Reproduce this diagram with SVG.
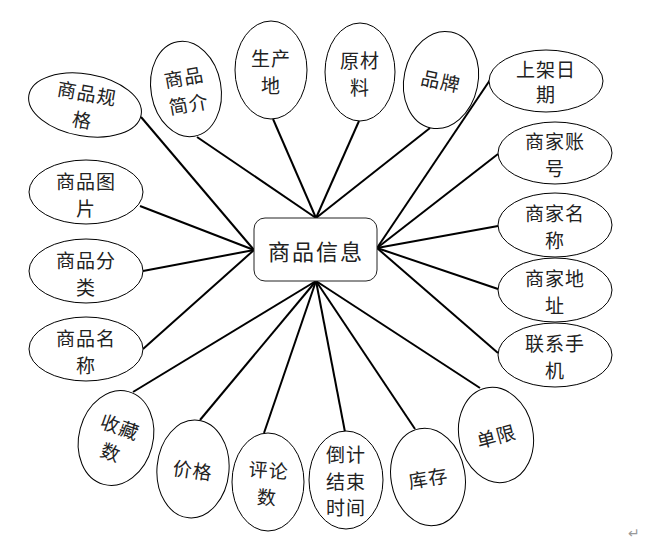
<svg xmlns="http://www.w3.org/2000/svg" width="663" height="540" viewBox="0 0 663 540">
<style>
.e{fill:#fff;stroke:#000;stroke-width:1}
.t{font-family:"Noto Sans CJK SC","Noto Sans",sans-serif;font-size:19px;fill:#222;text-anchor:middle;dominant-baseline:central;letter-spacing:1px}
.c{stroke:#000;stroke-width:2;fill:none}
</style>
<rect width="663" height="540" fill="#fff"/>
<g id="connectors">
<line class="c" x1="141" y1="117" x2="254" y2="250"/>
<line class="c" x1="197" y1="137" x2="316" y2="218"/>
<line class="c" x1="273" y1="119" x2="316" y2="218"/>
<line class="c" x1="359" y1="121" x2="316" y2="218"/>
<line class="c" x1="430" y1="128" x2="316" y2="218"/>
<line class="c" x1="490" y1="80" x2="377" y2="248"/>
<line class="c" x1="498" y1="154" x2="377" y2="248"/>
<line class="c" x1="498" y1="226" x2="377" y2="248"/>
<line class="c" x1="498" y1="289" x2="377" y2="248"/>
<line class="c" x1="498" y1="353" x2="377" y2="248"/>
<line class="c" x1="140" y1="206" x2="254" y2="250"/>
<line class="c" x1="143" y1="271" x2="254" y2="250"/>
<line class="c" x1="143" y1="349" x2="254" y2="250"/>
<line class="c" x1="133" y1="392" x2="316" y2="281"/>
<line class="c" x1="200" y1="420" x2="316" y2="281"/>
<line class="c" x1="264" y1="433" x2="316" y2="281"/>
<line class="c" x1="345" y1="432" x2="316" y2="281"/>
<line class="c" x1="415" y1="429" x2="316" y2="281"/>
<line class="c" x1="480" y1="388" x2="316" y2="281"/>
</g>
<g id="center">
<rect x="254" y="218" width="123" height="63" rx="11" ry="11" fill="#fff" stroke="#222" stroke-width="1"/>
<text class="t" x="316" y="250" style="font-size:22px;letter-spacing:2px">商品信息</text>
</g>
<g id="n-spec" transform="translate(85,105) rotate(10)">
<ellipse class="e" rx="57" ry="31"/>
<text class="t" y="-13">商品规</text><text class="t" y="14">格</text>
</g>
<g id="n-intro" transform="translate(186,89) rotate(-10)">
<ellipse class="e" rx="35" ry="48"/>
<text class="t" y="-13">商品</text><text class="t" y="14">简介</text>
</g>
<g id="n-origin" transform="translate(271,70)">
<ellipse class="e" rx="36" ry="49"/>
<text class="t" y="-13">生产</text><text class="t" y="14">地</text>
</g>
<g id="n-material" transform="translate(360,72)">
<ellipse class="e" rx="35" ry="49"/>
<text class="t" y="-13">原材</text><text class="t" y="14">料</text>
</g>
<g id="n-brand" transform="translate(441,80) rotate(12)">
<ellipse class="e" rx="37" ry="49"/>
<text class="t" y="0">品牌</text>
</g>
<g id="n-date" transform="translate(546,81)">
<ellipse class="e" rx="57" ry="31"/>
<text class="t" y="-13">上架日</text><text class="t" y="12">期</text>
</g>
<g id="n-account" transform="translate(555,153)">
<ellipse class="e" rx="57" ry="31"/>
<text class="t" y="-13">商家账</text><text class="t" y="14">号</text>
</g>
<g id="n-mname" transform="translate(555,225)">
<ellipse class="e" rx="57" ry="32"/>
<text class="t" y="-13">商家名</text><text class="t" y="14">称</text>
</g>
<g id="n-maddr" transform="translate(555,290)">
<ellipse class="e" rx="57" ry="32"/>
<text class="t" y="-13">商家地</text><text class="t" y="14">址</text>
</g>
<g id="n-phone" transform="translate(555,355)">
<ellipse class="e" rx="57" ry="32"/>
<text class="t" y="-13">联系手</text><text class="t" y="14">机</text>
</g>
<g id="n-pic" transform="translate(86,192)">
<ellipse class="e" rx="57" ry="32"/>
<text class="t" y="-12">商品图</text><text class="t" y="15">片</text>
</g>
<g id="n-cat" transform="translate(86,271)">
<ellipse class="e" rx="57" ry="32"/>
<text class="t" y="-12">商品分</text><text class="t" y="15">类</text>
</g>
<g id="n-name" transform="translate(86,349)">
<ellipse class="e" rx="57" ry="32"/>
<text class="t" y="-12">商品名</text><text class="t" y="15">称</text>
</g>
<g id="n-fav" transform="translate(116,438) rotate(15)">
<ellipse class="e" rx="37" ry="48"/>
<g transform="rotate(5)"><text class="t" y="-13">收藏</text><text class="t" y="14">数</text></g>
</g>
<g id="n-price" transform="translate(193,469) rotate(5)">
<ellipse class="e" rx="36" ry="49"/>
<text class="t" y="0" transform="rotate(3)">价格</text>
</g>
<g id="n-comments" transform="translate(268,482)">
<ellipse class="e" rx="36" ry="49"/>
<g transform="rotate(4)"><text class="t" y="-13">评论</text><text class="t" y="14">数</text></g>
</g>
<g id="n-countdown" transform="translate(346,480)">
<ellipse class="e" rx="37" ry="49"/>
<text class="t" y="-27">倒计</text><text class="t" y="0">结束</text><text class="t" y="26">时间</text>
</g>
<g id="n-stock" transform="translate(428,477) rotate(-10)">
<ellipse class="e" rx="37" ry="49"/>
<text class="t" y="0">库存</text>
</g>
<g id="n-limit" transform="translate(496,435) rotate(-12)">
<ellipse class="e" rx="37" ry="48"/>
<text class="t" y="0" transform="rotate(-3)">单限</text>
</g>
<text x="628" y="538" style="font-family:'DejaVu Sans',sans-serif;font-size:14px;fill:#999">↵</text>
</svg>
